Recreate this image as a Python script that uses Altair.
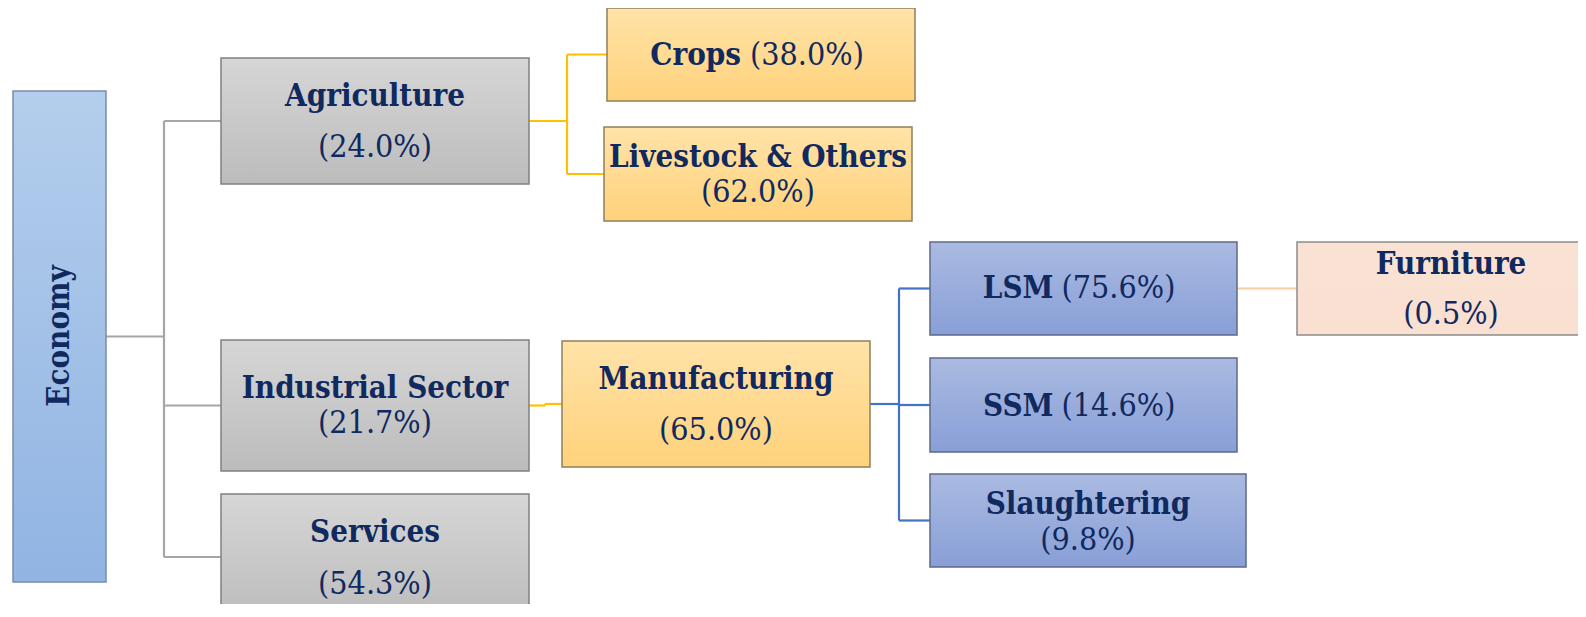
import altair as alt
import pandas as pd

# ---------------- data ----------------
nodes = ["Economy", "Agriculture", "Industrial Sector", "Services", "Crops",
         "Livestock & Others", "Manufacturing", "LSM", "SSM", "Slaughtering", "Furniture"]
shares = [None, 24.0, 21.7, 54.3, 38.0, 62.0, 65.0, 75.6, 14.6, 9.8, 0.5]
parents = [None, "Economy", "Economy", "Economy", "Agriculture", "Agriculture",
           "Industrial Sector", "Manufacturing", "Manufacturing", "Manufacturing", "LSM"]

# ---------------- layout (page pixels) ----------------
box_x0 = [13, 221, 221, 221, 607, 604, 562, 930, 930, 930, 1297]
box_x1 = [106, 529, 529, 529, 915, 912, 870, 1237, 1237, 1246, 1605]
box_y0 = [91, 58, 340, 494, 8, 127, 341, 242, 358, 474, 242]
box_y1 = [582, 184, 471, 620, 101, 221, 467, 335, 452, 567, 335]
box_style = ["economy", "gray", "gray", "gray", "yellow", "yellow", "yellow",
             "blue", "blue", "blue", "peach"]
label_mode = ["vertical", "stack", "stack", "stack", "inline", "stack", "stack",
              "inline", "inline", "stack", "stack"]
name_y = [336, 97, 389, 533, 56, 158, 380, 289, 407, 505, 265]
pct_y = [None, 147, 423, 584, 55, 192, 430, 288, 406, 540, 314]
inline_bold_end = {"Crops": -20, "LSM": -30, "SSM": -30}
inline_pct_start = {"Crops": -11, "LSM": -22, "SSM": -22}
trunk_x = {"Economy": 164, "Agriculture": 567, "Industrial Sector": 545,
           "Manufacturing": 899, "LSM": 1267}
link_color = {"Economy": "#A6A6A6", "Agriculture": "#FFC000",
              "Industrial Sector": "#FFC000", "Manufacturing": "#4472C4",
              "LSM": "#F9D2A4"}

styles = {
    "economy": ("#B4CEEC", "#91B4E3", "#7A8CA6"),
    "gray": ("#D6D6D6", "#BCBCBC", "#808080"),
    "yellow": ("#FFE3A8", "#FFD27C", "#8F7F5E"),
    "blue": ("#AABAE1", "#889FD7", "#5E6A8C"),
    "peach": ("#F9E2D4", "#F9E0D1", "#8C8C8C"),
}
TEXT = "#10295F"
BOLD_FONT = "DejaVu Serif Condensed, DejaVu Serif"
REG_FONT = "DejaVu Serif Condensed, DejaVu Serif"
BOLD_SIZE = 31
REG_SIZE = 32

# ---------------- tables ----------------
boxes = pd.DataFrame({
    "node": nodes, "x0": box_x0, "x1": box_x1, "y0": box_y0, "y1": box_y1,
    "style": box_style, "mode": label_mode, "name_y": name_y, "pct_y": pct_y,
    "share": shares,
})
boxes["cx"] = (boxes.x0 + boxes.x1) / 2
boxes["cy"] = (boxes.y0 + boxes.y1) / 2
boxes["pct"] = [("(%.1f%%)" % s) if s is not None else "" for s in shares]
pos = {r.node: r for r in boxes.itertuples()}

segs = []
for p, tx in trunk_x.items():
    kids = [n for n, pr in zip(nodes, parents) if pr == p]
    P = pos[p]
    c = link_color[p]
    ys_ = [P.cy] + [pos[k].cy for k in kids]
    segs.append(dict(x=P.x1, x2=tx, y=P.cy, y2=P.cy, color=c))
    segs.append(dict(x=tx, x2=tx, y=min(ys_), y2=max(ys_), color=c))
    for k in kids:
        segs.append(dict(x=tx, x2=pos[k].x0, y=pos[k].cy, y2=pos[k].cy, color=c))
segs = pd.DataFrame(segs)

xs = alt.Scale(domain=[8, 1578], nice=False, zero=False)
ys = alt.Scale(domain=[8, 604], nice=False, zero=False, reverse=True)

links = alt.Chart(segs).mark_rule(strokeWidth=2.2).encode(
    x=alt.X("x:Q", scale=xs, axis=None), x2="x2:Q",
    y=alt.Y("y:Q", scale=ys, axis=None), y2="y2:Q",
    color=alt.Color("color:N", scale=None),
)

layers = [links]
for st, (top, bot, border) in styles.items():
    sub = boxes[boxes["style"] == st]
    grad = alt.Gradient(gradient="linear",
                        stops=[alt.GradientStop(color=top, offset=0),
                               alt.GradientStop(color=bot, offset=1)],
                        x1=0, x2=0, y1=0, y2=1)
    layers.append(alt.Chart(sub).mark_rect(fill=grad, stroke=border, strokeWidth=1.5).encode(
        x=alt.X("x0:Q", scale=xs, axis=None), x2="x1:Q",
        y=alt.Y("y0:Q", scale=ys, axis=None), y2="y1:Q",
    ))

stack = boxes[boxes["mode"] == "stack"]
layers.append(alt.Chart(stack).mark_text(font=BOLD_FONT, fontWeight="bold", fontSize=BOLD_SIZE,
                                         color=TEXT, baseline="middle", align="center").encode(
    x=alt.X("cx:Q", scale=xs, axis=None), y=alt.Y("name_y:Q", scale=ys, axis=None), text="node:N"))
layers.append(alt.Chart(stack).mark_text(font=REG_FONT, fontSize=REG_SIZE,
                                         color=TEXT, baseline="middle", align="center").encode(
    x=alt.X("cx:Q", scale=xs, axis=None), y=alt.Y("pct_y:Q", scale=ys, axis=None), text="pct:N"))

inl = boxes[boxes["mode"] == "inline"].copy()
inl["bx"] = inl.cx + inl.node.map(inline_bold_end)
inl["px"] = inl.cx + inl.node.map(inline_pct_start)
layers.append(alt.Chart(inl).mark_text(font=BOLD_FONT, fontWeight="bold", fontSize=BOLD_SIZE,
                                       color=TEXT, baseline="middle", align="right").encode(
    x=alt.X("bx:Q", scale=xs, axis=None), y=alt.Y("name_y:Q", scale=ys, axis=None), text="node:N"))
layers.append(alt.Chart(inl).mark_text(font=REG_FONT, fontSize=REG_SIZE,
                                       color=TEXT, baseline="middle", align="left").encode(
    x=alt.X("px:Q", scale=xs, axis=None), y=alt.Y("pct_y:Q", scale=ys, axis=None), text="pct:N"))

vert = boxes[boxes["mode"] == "vertical"]
layers.append(alt.Chart(vert).mark_text(font=BOLD_FONT, fontWeight="bold", fontSize=31,
                                        color=TEXT, baseline="middle", align="center", angle=270).encode(
    x=alt.X("cx:Q", scale=xs, axis=None), y=alt.Y("name_y:Q", scale=ys, axis=None), text="node:N"))

chart = alt.layer(*layers).properties(
    width=1570, height=596, padding=0, background="white",
    autosize=alt.AutoSizeParams(type="none"),
).configure_view(stroke=None)

chart.save("out.html", embed_options={"renderer": "svg", "actions": False})
